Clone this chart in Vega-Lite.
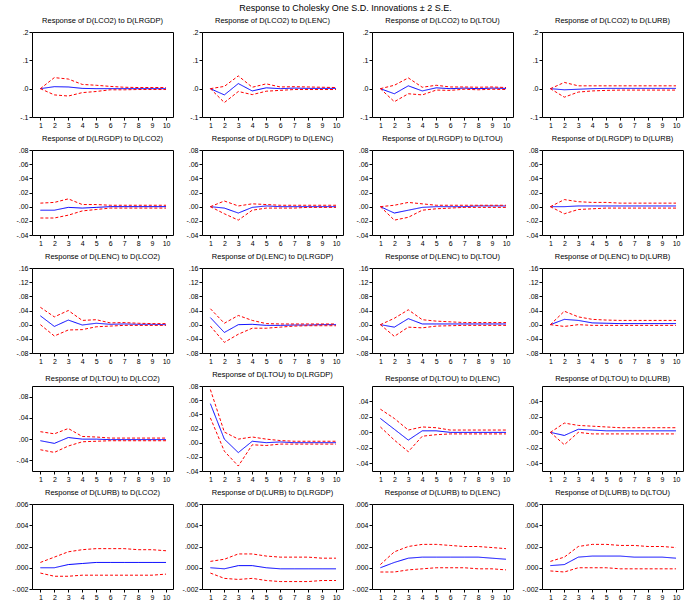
{
"$schema": "https://vega.github.io/schema/vega-lite/v6.json",
"padding": {"left": 7, "top": 4, "right": 0, "bottom": 0},
"title": {"text": "Response to Cholesky One S.D. Innovations ± 2 S.E.", "fontSize": 9, "font": "Liberation Sans", "fontWeight": "normal", "offset": 3, "anchor": "middle"},
"datasets": {"irf": [
{"p":"a1","t":1,"r":0,"lo":0,"hi":0},{"p":"a1","t":2,"r":0.007,"lo":-0.022,"hi":0.039},{"p":"a1","t":3,"r":0.006,"lo":-0.026,"hi":0.034},{"p":"a1","t":4,"r":0.001,"lo":-0.014,"hi":0.015},{"p":"a1","t":5,"r":0,"lo":-0.010,"hi":0.012},{"p":"a1","t":6,"r":0,"lo":-0.004,"hi":0.008},{"p":"a1","t":7,"r":0,"lo":-0.004,"hi":0.005},{"p":"a1","t":8,"r":0,"lo":-0.003,"hi":0.004},{"p":"a1","t":9,"r":0,"lo":-0.003,"hi":0.004},{"p":"a1","t":10,"r":0,"lo":-0.003,"hi":0.004},
{"p":"a2","t":1,"r":0,"lo":0,"hi":0},{"p":"a2","t":2,"r":-0.022,"lo":-0.049,"hi":0.008},{"p":"a2","t":3,"r":0.018,"lo":-0.010,"hi":0.045},{"p":"a2","t":4,"r":-0.008,"lo":-0.021,"hi":0.005},{"p":"a2","t":5,"r":0.003,"lo":-0.009,"hi":0.017},{"p":"a2","t":6,"r":0,"lo":-0.006,"hi":0.006},{"p":"a2","t":7,"r":0.002,"lo":-0.003,"hi":0.007},{"p":"a2","t":8,"r":0.001,"lo":-0.003,"hi":0.006},{"p":"a2","t":9,"r":0.001,"lo":-0.003,"hi":0.005},{"p":"a2","t":10,"r":0.001,"lo":-0.003,"hi":0.004},
{"p":"a3","t":1,"r":0,"lo":0,"hi":0},{"p":"a3","t":2,"r":-0.018,"lo":-0.046,"hi":0.012},{"p":"a3","t":3,"r":0.010,"lo":-0.018,"hi":0.038},{"p":"a3","t":4,"r":-0.008,"lo":-0.022,"hi":0.005},{"p":"a3","t":5,"r":0.003,"lo":-0.005,"hi":0.012},{"p":"a3","t":6,"r":0,"lo":-0.006,"hi":0.006},{"p":"a3","t":7,"r":0.002,"lo":-0.002,"hi":0.006},{"p":"a3","t":8,"r":0,"lo":-0.004,"hi":0.005},{"p":"a3","t":9,"r":0.002,"lo":-0.002,"hi":0.006},{"p":"a3","t":10,"r":0.001,"lo":-0.003,"hi":0.004},
{"p":"a4","t":1,"r":0,"lo":0,"hi":0},{"p":"a4","t":2,"r":-0.004,"lo":-0.030,"hi":0.022},{"p":"a4","t":3,"r":-0.002,"lo":-0.012,"hi":0.010},{"p":"a4","t":4,"r":0,"lo":-0.008,"hi":0.010},{"p":"a4","t":5,"r":0.001,"lo":-0.006,"hi":0.010},{"p":"a4","t":6,"r":0.001,"lo":-0.005,"hi":0.010},{"p":"a4","t":7,"r":0.001,"lo":-0.005,"hi":0.010},{"p":"a4","t":8,"r":0.001,"lo":-0.005,"hi":0.010},{"p":"a4","t":9,"r":0.001,"lo":-0.005,"hi":0.010},{"p":"a4","t":10,"r":0.001,"lo":-0.005,"hi":0.010},
{"p":"b1","t":1,"r":-0.005,"lo":-0.016,"hi":0.005},{"p":"b1","t":2,"r":-0.005,"lo":-0.016,"hi":0.006},{"p":"b1","t":3,"r":-0.001,"lo":-0.012,"hi":0.011},{"p":"b1","t":4,"r":-0.002,"lo":-0.006,"hi":0.003},{"p":"b1","t":5,"r":-0.001,"lo":-0.004,"hi":0.003},{"p":"b1","t":6,"r":0,"lo":-0.002,"hi":0.002},{"p":"b1","t":7,"r":0,"lo":-0.002,"hi":0.002},{"p":"b1","t":8,"r":0,"lo":-0.002,"hi":0.002},{"p":"b1","t":9,"r":0,"lo":-0.002,"hi":0.002},{"p":"b1","t":10,"r":0,"lo":-0.002,"hi":0.002},
{"p":"b2","t":1,"r":0,"lo":0,"hi":0},{"p":"b2","t":2,"r":-0.002,"lo":-0.010,"hi":0.008},{"p":"b2","t":3,"r":-0.009,"lo":-0.019,"hi":0.001},{"p":"b2","t":4,"r":-0.001,"lo":-0.005,"hi":0.004},{"p":"b2","t":5,"r":0.001,"lo":-0.002,"hi":0.003},{"p":"b2","t":6,"r":0,"lo":-0.002,"hi":0.002},{"p":"b2","t":7,"r":0,"lo":-0.002,"hi":0.002},{"p":"b2","t":8,"r":0,"lo":-0.001,"hi":0.002},{"p":"b2","t":9,"r":0,"lo":-0.001,"hi":0.002},{"p":"b2","t":10,"r":0,"lo":-0.001,"hi":0.002},
{"p":"b3","t":1,"r":0,"lo":0,"hi":0},{"p":"b3","t":2,"r":-0.009,"lo":-0.019,"hi":0.002},{"p":"b3","t":3,"r":-0.005,"lo":-0.015,"hi":0.006},{"p":"b3","t":4,"r":-0.001,"lo":-0.005,"hi":0.004},{"p":"b3","t":5,"r":0,"lo":-0.003,"hi":0.002},{"p":"b3","t":6,"r":0,"lo":-0.002,"hi":0.002},{"p":"b3","t":7,"r":0,"lo":-0.001,"hi":0.002},{"p":"b3","t":8,"r":0.001,"lo":-0.001,"hi":0.002},{"p":"b3","t":9,"r":0.001,"lo":-0.001,"hi":0.002},{"p":"b3","t":10,"r":0.001,"lo":-0.001,"hi":0.002},
{"p":"b4","t":1,"r":0,"lo":0,"hi":0},{"p":"b4","t":2,"r":0,"lo":-0.010,"hi":0.010},{"p":"b4","t":3,"r":0.001,"lo":-0.004,"hi":0.007},{"p":"b4","t":4,"r":0.001,"lo":-0.003,"hi":0.006},{"p":"b4","t":5,"r":0.001,"lo":-0.002,"hi":0.006},{"p":"b4","t":6,"r":0.001,"lo":-0.002,"hi":0.005},{"p":"b4","t":7,"r":0.001,"lo":-0.002,"hi":0.005},{"p":"b4","t":8,"r":0.001,"lo":-0.002,"hi":0.005},{"p":"b4","t":9,"r":0.001,"lo":-0.002,"hi":0.005},{"p":"b4","t":10,"r":0.001,"lo":-0.002,"hi":0.005},
{"p":"c1","t":1,"r":0.025,"lo":0,"hi":0.049},{"p":"c1","t":2,"r":-0.005,"lo":-0.032,"hi":0.022},{"p":"c1","t":3,"r":0.013,"lo":-0.015,"hi":0.040},{"p":"c1","t":4,"r":-0.001,"lo":-0.014,"hi":0.012},{"p":"c1","t":5,"r":0.004,"lo":-0.006,"hi":0.014},{"p":"c1","t":6,"r":0.001,"lo":-0.004,"hi":0.005},{"p":"c1","t":7,"r":0.002,"lo":-0.002,"hi":0.006},{"p":"c1","t":8,"r":0.001,"lo":-0.002,"hi":0.004},{"p":"c1","t":9,"r":0.001,"lo":-0.002,"hi":0.003},{"p":"c1","t":10,"r":0,"lo":-0.002,"hi":0.003},
{"p":"c2","t":1,"r":0.020,"lo":-0.004,"hi":0.045},{"p":"c2","t":2,"r":-0.022,"lo":-0.050,"hi":0.004},{"p":"c2","t":3,"r":0,"lo":-0.027,"hi":0.026},{"p":"c2","t":4,"r":0.001,"lo":-0.010,"hi":0.012},{"p":"c2","t":5,"r":-0.002,"lo":-0.010,"hi":0.003},{"p":"c2","t":6,"r":-0.002,"lo":-0.007,"hi":0.002},{"p":"c2","t":7,"r":-0.001,"lo":-0.004,"hi":0.002},{"p":"c2","t":8,"r":-0.001,"lo":-0.003,"hi":0.002},{"p":"c2","t":9,"r":0,"lo":-0.003,"hi":0.002},{"p":"c2","t":10,"r":0,"lo":-0.003,"hi":0.002},
{"p":"c3","t":1,"r":0,"lo":0,"hi":0},{"p":"c3","t":2,"r":-0.007,"lo":-0.033,"hi":0.018},{"p":"c3","t":3,"r":0.017,"lo":-0.007,"hi":0.042},{"p":"c3","t":4,"r":0.002,"lo":-0.009,"hi":0.014},{"p":"c3","t":5,"r":0.002,"lo":-0.004,"hi":0.010},{"p":"c3","t":6,"r":0.002,"lo":-0.003,"hi":0.008},{"p":"c3","t":7,"r":0.002,"lo":-0.002,"hi":0.006},{"p":"c3","t":8,"r":0.002,"lo":-0.002,"hi":0.006},{"p":"c3","t":9,"r":0.002,"lo":-0.002,"hi":0.006},{"p":"c3","t":10,"r":0.002,"lo":-0.002,"hi":0.006},
{"p":"c4","t":1,"r":0,"lo":0,"hi":0},{"p":"c4","t":2,"r":0.015,"lo":-0.005,"hi":0.038},{"p":"c4","t":3,"r":0.012,"lo":0,"hi":0.022},{"p":"c4","t":4,"r":0.005,"lo":-0.002,"hi":0.015},{"p":"c4","t":5,"r":0.004,"lo":-0.002,"hi":0.013},{"p":"c4","t":6,"r":0.003,"lo":-0.002,"hi":0.012},{"p":"c4","t":7,"r":0.003,"lo":-0.002,"hi":0.012},{"p":"c4","t":8,"r":0.003,"lo":-0.002,"hi":0.012},{"p":"c4","t":9,"r":0.003,"lo":-0.002,"hi":0.012},{"p":"c4","t":10,"r":0.003,"lo":-0.002,"hi":0.012},
{"p":"d1","t":1,"r":-0.003,"lo":-0.020,"hi":0.014},{"p":"d1","t":2,"r":-0.008,"lo":-0.025,"hi":0.010},{"p":"d1","t":3,"r":0.003,"lo":-0.013,"hi":0.020},{"p":"d1","t":4,"r":0,"lo":-0.005,"hi":0.005},{"p":"d1","t":5,"r":0,"lo":-0.004,"hi":0.004},{"p":"d1","t":6,"r":-0.001,"lo":-0.003,"hi":0.002},{"p":"d1","t":7,"r":-0.001,"lo":-0.003,"hi":0.002},{"p":"d1","t":8,"r":-0.001,"lo":-0.003,"hi":0.002},{"p":"d1","t":9,"r":-0.001,"lo":-0.003,"hi":0.002},{"p":"d1","t":10,"r":-0.001,"lo":-0.003,"hi":0.002},
{"p":"d2","t":1,"r":0.055,"lo":0.035,"hi":0.075},{"p":"d2","t":2,"r":0.005,"lo":-0.012,"hi":0.015},{"p":"d2","t":3,"r":-0.014,"lo":-0.033,"hi":0.005},{"p":"d2","t":4,"r":0.002,"lo":-0.003,"hi":0.008},{"p":"d2","t":5,"r":0,"lo":-0.004,"hi":0.005},{"p":"d2","t":6,"r":0.001,"lo":-0.002,"hi":0.003},{"p":"d2","t":7,"r":0,"lo":-0.002,"hi":0.002},{"p":"d2","t":8,"r":0,"lo":-0.002,"hi":0.002},{"p":"d2","t":9,"r":0,"lo":-0.002,"hi":0.002},{"p":"d2","t":10,"r":0,"lo":-0.002,"hi":0.002},
{"p":"d3","t":1,"r":0.018,"lo":0.007,"hi":0.030},{"p":"d3","t":2,"r":0.004,"lo":-0.010,"hi":0.018},{"p":"d3","t":3,"r":-0.010,"lo":-0.025,"hi":0.003},{"p":"d3","t":4,"r":0.002,"lo":-0.005,"hi":0.007},{"p":"d3","t":5,"r":0.002,"lo":-0.003,"hi":0.006},{"p":"d3","t":6,"r":0,"lo":-0.002,"hi":0.003},{"p":"d3","t":7,"r":0,"lo":-0.002,"hi":0.003},{"p":"d3","t":8,"r":0,"lo":-0.002,"hi":0.003},{"p":"d3","t":9,"r":0,"lo":-0.002,"hi":0.003},{"p":"d3","t":10,"r":0,"lo":-0.002,"hi":0.003},
{"p":"d4","t":1,"r":0,"lo":0,"hi":0},{"p":"d4","t":2,"r":-0.004,"lo":-0.016,"hi":0.012},{"p":"d4","t":3,"r":0.004,"lo":0,"hi":0.009},{"p":"d4","t":4,"r":0.003,"lo":-0.002,"hi":0.008},{"p":"d4","t":5,"r":0.002,"lo":-0.002,"hi":0.007},{"p":"d4","t":6,"r":0.002,"lo":-0.002,"hi":0.006},{"p":"d4","t":7,"r":0.002,"lo":-0.002,"hi":0.006},{"p":"d4","t":8,"r":0.002,"lo":-0.002,"hi":0.006},{"p":"d4","t":9,"r":0.002,"lo":-0.002,"hi":0.006},{"p":"d4","t":10,"r":0.002,"lo":-0.002,"hi":0.006},
{"p":"e1","t":1,"r":0,"lo":-0.0005,"hi":0.0005},{"p":"e1","t":2,"r":0,"lo":-0.0008,"hi":0.001},{"p":"e1","t":3,"r":0.0003,"lo":-0.0008,"hi":0.0015},{"p":"e1","t":4,"r":0.0004,"lo":-0.0007,"hi":0.0017},{"p":"e1","t":5,"r":0.0005,"lo":-0.0007,"hi":0.0018},{"p":"e1","t":6,"r":0.0005,"lo":-0.0007,"hi":0.0018},{"p":"e1","t":7,"r":0.0005,"lo":-0.0007,"hi":0.0018},{"p":"e1","t":8,"r":0.0005,"lo":-0.0007,"hi":0.0017},{"p":"e1","t":9,"r":0.0005,"lo":-0.0007,"hi":0.0017},{"p":"e1","t":10,"r":0.0005,"lo":-0.0006,"hi":0.0016},
{"p":"e2","t":1,"r":0,"lo":-0.0005,"hi":0.0006},{"p":"e2","t":2,"r":-0.0001,"lo":-0.001,"hi":0.0008},{"p":"e2","t":3,"r":0.0002,"lo":-0.0011,"hi":0.0013},{"p":"e2","t":4,"r":0.0002,"lo":-0.001,"hi":0.0013},{"p":"e2","t":5,"r":0,"lo":-0.0012,"hi":0.0011},{"p":"e2","t":6,"r":-0.0001,"lo":-0.0013,"hi":0.001},{"p":"e2","t":7,"r":-0.0001,"lo":-0.0013,"hi":0.001},{"p":"e2","t":8,"r":-0.0001,"lo":-0.0013,"hi":0.001},{"p":"e2","t":9,"r":-0.0001,"lo":-0.0012,"hi":0.0009},{"p":"e2","t":10,"r":-0.0001,"lo":-0.0012,"hi":0.0009},
{"p":"e3","t":1,"r":0,"lo":-0.0004,"hi":0.0003},{"p":"e3","t":2,"r":0.0005,"lo":-0.0004,"hi":0.0015},{"p":"e3","t":3,"r":0.0009,"lo":-0.0002,"hi":0.002},{"p":"e3","t":4,"r":0.001,"lo":-0.0001,"hi":0.0022},{"p":"e3","t":5,"r":0.001,"lo":0,"hi":0.0022},{"p":"e3","t":6,"r":0.001,"lo":0,"hi":0.0021},{"p":"e3","t":7,"r":0.001,"lo":0,"hi":0.002},{"p":"e3","t":8,"r":0.001,"lo":-0.0001,"hi":0.002},{"p":"e3","t":9,"r":0.0009,"lo":-0.0001,"hi":0.0019},{"p":"e3","t":10,"r":0.0008,"lo":-0.0002,"hi":0.0018},
{"p":"e4","t":1,"r":0.0002,"lo":-0.0003,"hi":0.0006},{"p":"e4","t":2,"r":0.0003,"lo":-0.0004,"hi":0.001},{"p":"e4","t":3,"r":0.001,"lo":0,"hi":0.002},{"p":"e4","t":4,"r":0.0011,"lo":0,"hi":0.0022},{"p":"e4","t":5,"r":0.0011,"lo":0,"hi":0.0022},{"p":"e4","t":6,"r":0.0011,"lo":-0.0001,"hi":0.0021},{"p":"e4","t":7,"r":0.001,"lo":-0.0001,"hi":0.0021},{"p":"e4","t":8,"r":0.001,"lo":-0.0001,"hi":0.002},{"p":"e4","t":9,"r":0.001,"lo":-0.0001,"hi":0.002},{"p":"e4","t":10,"r":0.0009,"lo":-0.0001,"hi":0.0019}
]},
"data": {"name": "irf"},
"spacing": 5,
"vconcat": [
{"spacing": 29, "bounds": "flush", "hconcat": [
 {"title": "Response of D(LCO2) to D(LRGDP)", "width": 141, "height": 85, "transform": [{"filter": "datum.p == 'a1'"}, {"fold": ["r", "lo", "hi"], "as": ["s", "v"]}], "mark": {"type": "line", "strokeWidth": 1}, "encoding": {"x": {"field": "t", "type": "quantitative", "title": null, "scale": {"domain": [0.4, 10.5]}, "axis": {"values": [1,2,3,4,5,6,7,8,9,10], "format": "d"}}, "y": {"field": "v", "type": "quantitative", "title": null, "scale": {"domain": [-0.1, 0.2], "nice": false, "zero": false}, "axis": {"values": [-0.1, 0, 0.1, 0.2], "labelExpr": "replace(replace(format(datum.value, '.1f'), '0.', '.'), '−', '-')"}}, "color": {"field": "s", "type": "nominal", "legend": null, "scale": {"domain": ["r", "lo", "hi"], "range": ["#0000ff", "#ff0000", "#ff0000"]}}, "strokeDash": {"field": "s", "type": "nominal", "legend": null, "scale": {"domain": ["r", "lo", "hi"], "range": [[1, 0], [3, 2], [3, 2]]}}}},
 {"title": "Response of D(LCO2) to D(LENC)", "width": 141, "height": 85, "transform": [{"filter": "datum.p == 'a2'"}, {"fold": ["r", "lo", "hi"], "as": ["s", "v"]}], "mark": {"type": "line", "strokeWidth": 1}, "encoding": {"x": {"field": "t", "type": "quantitative", "title": null, "scale": {"domain": [0.4, 10.5]}, "axis": {"values": [1,2,3,4,5,6,7,8,9,10], "format": "d"}}, "y": {"field": "v", "type": "quantitative", "title": null, "scale": {"domain": [-0.1, 0.2], "nice": false, "zero": false}, "axis": {"values": [-0.1, 0, 0.1, 0.2], "labelExpr": "replace(replace(format(datum.value, '.1f'), '0.', '.'), '−', '-')"}}, "color": {"field": "s", "type": "nominal", "legend": null, "scale": {"domain": ["r", "lo", "hi"], "range": ["#0000ff", "#ff0000", "#ff0000"]}}, "strokeDash": {"field": "s", "type": "nominal", "legend": null, "scale": {"domain": ["r", "lo", "hi"], "range": [[1, 0], [3, 2], [3, 2]]}}}},
 {"title": "Response of D(LCO2) to D(LTOU)", "width": 141, "height": 85, "transform": [{"filter": "datum.p == 'a3'"}, {"fold": ["r", "lo", "hi"], "as": ["s", "v"]}], "mark": {"type": "line", "strokeWidth": 1}, "encoding": {"x": {"field": "t", "type": "quantitative", "title": null, "scale": {"domain": [0.4, 10.5]}, "axis": {"values": [1,2,3,4,5,6,7,8,9,10], "format": "d"}}, "y": {"field": "v", "type": "quantitative", "title": null, "scale": {"domain": [-0.1, 0.2], "nice": false, "zero": false}, "axis": {"values": [-0.1, 0, 0.1, 0.2], "labelExpr": "replace(replace(format(datum.value, '.1f'), '0.', '.'), '−', '-')"}}, "color": {"field": "s", "type": "nominal", "legend": null, "scale": {"domain": ["r", "lo", "hi"], "range": ["#0000ff", "#ff0000", "#ff0000"]}}, "strokeDash": {"field": "s", "type": "nominal", "legend": null, "scale": {"domain": ["r", "lo", "hi"], "range": [[1, 0], [3, 2], [3, 2]]}}}},
 {"title": "Response of D(LCO2) to D(LURB)", "width": 141, "height": 85, "transform": [{"filter": "datum.p == 'a4'"}, {"fold": ["r", "lo", "hi"], "as": ["s", "v"]}], "mark": {"type": "line", "strokeWidth": 1}, "encoding": {"x": {"field": "t", "type": "quantitative", "title": null, "scale": {"domain": [0.4, 10.5]}, "axis": {"values": [1,2,3,4,5,6,7,8,9,10], "format": "d"}}, "y": {"field": "v", "type": "quantitative", "title": null, "scale": {"domain": [-0.1, 0.2], "nice": false, "zero": false}, "axis": {"values": [-0.1, 0, 0.1, 0.2], "labelExpr": "replace(replace(format(datum.value, '.1f'), '0.', '.'), '−', '-')"}}, "color": {"field": "s", "type": "nominal", "legend": null, "scale": {"domain": ["r", "lo", "hi"], "range": ["#0000ff", "#ff0000", "#ff0000"]}}, "strokeDash": {"field": "s", "type": "nominal", "legend": null, "scale": {"domain": ["r", "lo", "hi"], "range": [[1, 0], [3, 2], [3, 2]]}}}}
]},
{"spacing": 29, "bounds": "flush", "hconcat": [
 {"title": "Response of D(LRGDP) to D(LCO2)", "width": 141, "height": 85, "transform": [{"filter": "datum.p == 'b1'"}, {"fold": ["r", "lo", "hi"], "as": ["s", "v"]}], "mark": {"type": "line", "strokeWidth": 1}, "encoding": {"x": {"field": "t", "type": "quantitative", "title": null, "scale": {"domain": [0.4, 10.5]}, "axis": {"values": [1,2,3,4,5,6,7,8,9,10], "format": "d"}}, "y": {"field": "v", "type": "quantitative", "title": null, "scale": {"domain": [-0.04, 0.08], "nice": false, "zero": false}, "axis": {"values": [-0.04, -0.02, 0, 0.02, 0.04, 0.06, 0.08], "labelExpr": "replace(replace(format(datum.value, '.2f'), '0.', '.'), '−', '-')"}}, "color": {"field": "s", "type": "nominal", "legend": null, "scale": {"domain": ["r", "lo", "hi"], "range": ["#0000ff", "#ff0000", "#ff0000"]}}, "strokeDash": {"field": "s", "type": "nominal", "legend": null, "scale": {"domain": ["r", "lo", "hi"], "range": [[1, 0], [3, 2], [3, 2]]}}}},
 {"title": "Response of D(LRGDP) to D(LENC)", "width": 141, "height": 85, "transform": [{"filter": "datum.p == 'b2'"}, {"fold": ["r", "lo", "hi"], "as": ["s", "v"]}], "mark": {"type": "line", "strokeWidth": 1}, "encoding": {"x": {"field": "t", "type": "quantitative", "title": null, "scale": {"domain": [0.4, 10.5]}, "axis": {"values": [1,2,3,4,5,6,7,8,9,10], "format": "d"}}, "y": {"field": "v", "type": "quantitative", "title": null, "scale": {"domain": [-0.04, 0.08], "nice": false, "zero": false}, "axis": {"values": [-0.04, -0.02, 0, 0.02, 0.04, 0.06, 0.08], "labelExpr": "replace(replace(format(datum.value, '.2f'), '0.', '.'), '−', '-')"}}, "color": {"field": "s", "type": "nominal", "legend": null, "scale": {"domain": ["r", "lo", "hi"], "range": ["#0000ff", "#ff0000", "#ff0000"]}}, "strokeDash": {"field": "s", "type": "nominal", "legend": null, "scale": {"domain": ["r", "lo", "hi"], "range": [[1, 0], [3, 2], [3, 2]]}}}},
 {"title": "Response of D(LRGDP) to D(LTOU)", "width": 141, "height": 85, "transform": [{"filter": "datum.p == 'b3'"}, {"fold": ["r", "lo", "hi"], "as": ["s", "v"]}], "mark": {"type": "line", "strokeWidth": 1}, "encoding": {"x": {"field": "t", "type": "quantitative", "title": null, "scale": {"domain": [0.4, 10.5]}, "axis": {"values": [1,2,3,4,5,6,7,8,9,10], "format": "d"}}, "y": {"field": "v", "type": "quantitative", "title": null, "scale": {"domain": [-0.04, 0.08], "nice": false, "zero": false}, "axis": {"values": [-0.04, -0.02, 0, 0.02, 0.04, 0.06, 0.08], "labelExpr": "replace(replace(format(datum.value, '.2f'), '0.', '.'), '−', '-')"}}, "color": {"field": "s", "type": "nominal", "legend": null, "scale": {"domain": ["r", "lo", "hi"], "range": ["#0000ff", "#ff0000", "#ff0000"]}}, "strokeDash": {"field": "s", "type": "nominal", "legend": null, "scale": {"domain": ["r", "lo", "hi"], "range": [[1, 0], [3, 2], [3, 2]]}}}},
 {"title": "Response of D(LRGDP) to D(LURB)", "width": 141, "height": 85, "transform": [{"filter": "datum.p == 'b4'"}, {"fold": ["r", "lo", "hi"], "as": ["s", "v"]}], "mark": {"type": "line", "strokeWidth": 1}, "encoding": {"x": {"field": "t", "type": "quantitative", "title": null, "scale": {"domain": [0.4, 10.5]}, "axis": {"values": [1,2,3,4,5,6,7,8,9,10], "format": "d"}}, "y": {"field": "v", "type": "quantitative", "title": null, "scale": {"domain": [-0.04, 0.08], "nice": false, "zero": false}, "axis": {"values": [-0.04, -0.02, 0, 0.02, 0.04, 0.06, 0.08], "labelExpr": "replace(replace(format(datum.value, '.2f'), '0.', '.'), '−', '-')"}}, "color": {"field": "s", "type": "nominal", "legend": null, "scale": {"domain": ["r", "lo", "hi"], "range": ["#0000ff", "#ff0000", "#ff0000"]}}, "strokeDash": {"field": "s", "type": "nominal", "legend": null, "scale": {"domain": ["r", "lo", "hi"], "range": [[1, 0], [3, 2], [3, 2]]}}}}
]},
{"spacing": 29, "bounds": "flush", "hconcat": [
 {"title": "Response of D(LENC) to D(LCO2)", "width": 141, "height": 85, "transform": [{"filter": "datum.p == 'c1'"}, {"fold": ["r", "lo", "hi"], "as": ["s", "v"]}], "mark": {"type": "line", "strokeWidth": 1}, "encoding": {"x": {"field": "t", "type": "quantitative", "title": null, "scale": {"domain": [0.4, 10.5]}, "axis": {"values": [1,2,3,4,5,6,7,8,9,10], "format": "d"}}, "y": {"field": "v", "type": "quantitative", "title": null, "scale": {"domain": [-0.08, 0.16], "nice": false, "zero": false}, "axis": {"values": [-0.08, -0.04, 0, 0.04, 0.08, 0.12, 0.16], "labelExpr": "replace(replace(format(datum.value, '.2f'), '0.', '.'), '−', '-')"}}, "color": {"field": "s", "type": "nominal", "legend": null, "scale": {"domain": ["r", "lo", "hi"], "range": ["#0000ff", "#ff0000", "#ff0000"]}}, "strokeDash": {"field": "s", "type": "nominal", "legend": null, "scale": {"domain": ["r", "lo", "hi"], "range": [[1, 0], [3, 2], [3, 2]]}}}},
 {"title": "Response of D(LENC) to D(LRGDP)", "width": 141, "height": 85, "transform": [{"filter": "datum.p == 'c2'"}, {"fold": ["r", "lo", "hi"], "as": ["s", "v"]}], "mark": {"type": "line", "strokeWidth": 1}, "encoding": {"x": {"field": "t", "type": "quantitative", "title": null, "scale": {"domain": [0.4, 10.5]}, "axis": {"values": [1,2,3,4,5,6,7,8,9,10], "format": "d"}}, "y": {"field": "v", "type": "quantitative", "title": null, "scale": {"domain": [-0.08, 0.16], "nice": false, "zero": false}, "axis": {"values": [-0.08, -0.04, 0, 0.04, 0.08, 0.12, 0.16], "labelExpr": "replace(replace(format(datum.value, '.2f'), '0.', '.'), '−', '-')"}}, "color": {"field": "s", "type": "nominal", "legend": null, "scale": {"domain": ["r", "lo", "hi"], "range": ["#0000ff", "#ff0000", "#ff0000"]}}, "strokeDash": {"field": "s", "type": "nominal", "legend": null, "scale": {"domain": ["r", "lo", "hi"], "range": [[1, 0], [3, 2], [3, 2]]}}}},
 {"title": "Response of D(LENC) to D(LTOU)", "width": 141, "height": 85, "transform": [{"filter": "datum.p == 'c3'"}, {"fold": ["r", "lo", "hi"], "as": ["s", "v"]}], "mark": {"type": "line", "strokeWidth": 1}, "encoding": {"x": {"field": "t", "type": "quantitative", "title": null, "scale": {"domain": [0.4, 10.5]}, "axis": {"values": [1,2,3,4,5,6,7,8,9,10], "format": "d"}}, "y": {"field": "v", "type": "quantitative", "title": null, "scale": {"domain": [-0.08, 0.16], "nice": false, "zero": false}, "axis": {"values": [-0.08, -0.04, 0, 0.04, 0.08, 0.12, 0.16], "labelExpr": "replace(replace(format(datum.value, '.2f'), '0.', '.'), '−', '-')"}}, "color": {"field": "s", "type": "nominal", "legend": null, "scale": {"domain": ["r", "lo", "hi"], "range": ["#0000ff", "#ff0000", "#ff0000"]}}, "strokeDash": {"field": "s", "type": "nominal", "legend": null, "scale": {"domain": ["r", "lo", "hi"], "range": [[1, 0], [3, 2], [3, 2]]}}}},
 {"title": "Response of D(LENC) to D(LURB)", "width": 141, "height": 85, "transform": [{"filter": "datum.p == 'c4'"}, {"fold": ["r", "lo", "hi"], "as": ["s", "v"]}], "mark": {"type": "line", "strokeWidth": 1}, "encoding": {"x": {"field": "t", "type": "quantitative", "title": null, "scale": {"domain": [0.4, 10.5]}, "axis": {"values": [1,2,3,4,5,6,7,8,9,10], "format": "d"}}, "y": {"field": "v", "type": "quantitative", "title": null, "scale": {"domain": [-0.08, 0.16], "nice": false, "zero": false}, "axis": {"values": [-0.08, -0.04, 0, 0.04, 0.08, 0.12, 0.16], "labelExpr": "replace(replace(format(datum.value, '.2f'), '0.', '.'), '−', '-')"}}, "color": {"field": "s", "type": "nominal", "legend": null, "scale": {"domain": ["r", "lo", "hi"], "range": ["#0000ff", "#ff0000", "#ff0000"]}}, "strokeDash": {"field": "s", "type": "nominal", "legend": null, "scale": {"domain": ["r", "lo", "hi"], "range": [[1, 0], [3, 2], [3, 2]]}}}}
]},
{"spacing": 29, "bounds": "flush", "hconcat": [
 {"title": "Response of D(LTOU) to D(LCO2)", "width": 141, "height": 85, "transform": [{"filter": "datum.p == 'd1'"}, {"fold": ["r", "lo", "hi"], "as": ["s", "v"]}], "mark": {"type": "line", "strokeWidth": 1}, "encoding": {"x": {"field": "t", "type": "quantitative", "title": null, "scale": {"domain": [0.4, 10.5]}, "axis": {"values": [1,2,3,4,5,6,7,8,9,10], "format": "d"}}, "y": {"field": "v", "type": "quantitative", "title": null, "scale": {"domain": [-0.06, 0.1], "nice": false, "zero": false}, "axis": {"values": [-0.04, 0, 0.04, 0.08], "labelExpr": "replace(replace(format(datum.value, '.2f'), '0.', '.'), '−', '-')"}}, "color": {"field": "s", "type": "nominal", "legend": null, "scale": {"domain": ["r", "lo", "hi"], "range": ["#0000ff", "#ff0000", "#ff0000"]}}, "strokeDash": {"field": "s", "type": "nominal", "legend": null, "scale": {"domain": ["r", "lo", "hi"], "range": [[1, 0], [3, 2], [3, 2]]}}}},
 {"title": "Response of D(LTOU) to D(LRGDP)", "width": 141, "height": 85, "transform": [{"filter": "datum.p == 'd2'"}, {"fold": ["r", "lo", "hi"], "as": ["s", "v"]}], "mark": {"type": "line", "strokeWidth": 1}, "encoding": {"x": {"field": "t", "type": "quantitative", "title": null, "scale": {"domain": [0.4, 10.5]}, "axis": {"values": [1,2,3,4,5,6,7,8,9,10], "format": "d"}}, "y": {"field": "v", "type": "quantitative", "title": null, "scale": {"domain": [-0.04, 0.08], "nice": false, "zero": false}, "axis": {"values": [-0.04, -0.02, 0, 0.02, 0.04, 0.06, 0.08], "labelExpr": "replace(replace(format(datum.value, '.2f'), '0.', '.'), '−', '-')"}}, "color": {"field": "s", "type": "nominal", "legend": null, "scale": {"domain": ["r", "lo", "hi"], "range": ["#0000ff", "#ff0000", "#ff0000"]}}, "strokeDash": {"field": "s", "type": "nominal", "legend": null, "scale": {"domain": ["r", "lo", "hi"], "range": [[1, 0], [3, 2], [3, 2]]}}}},
 {"title": "Response of D(LTOU) to D(LENC)", "width": 141, "height": 85, "transform": [{"filter": "datum.p == 'd3'"}, {"fold": ["r", "lo", "hi"], "as": ["s", "v"]}], "mark": {"type": "line", "strokeWidth": 1}, "encoding": {"x": {"field": "t", "type": "quantitative", "title": null, "scale": {"domain": [0.4, 10.5]}, "axis": {"values": [1,2,3,4,5,6,7,8,9,10], "format": "d"}}, "y": {"field": "v", "type": "quantitative", "title": null, "scale": {"domain": [-0.05, 0.06], "nice": false, "zero": false}, "axis": {"values": [-0.04, -0.02, 0, 0.02, 0.04], "labelExpr": "replace(replace(format(datum.value, '.2f'), '0.', '.'), '−', '-')"}}, "color": {"field": "s", "type": "nominal", "legend": null, "scale": {"domain": ["r", "lo", "hi"], "range": ["#0000ff", "#ff0000", "#ff0000"]}}, "strokeDash": {"field": "s", "type": "nominal", "legend": null, "scale": {"domain": ["r", "lo", "hi"], "range": [[1, 0], [3, 2], [3, 2]]}}}},
 {"title": "Response of D(LTOU) to D(LURB)", "width": 141, "height": 85, "transform": [{"filter": "datum.p == 'd4'"}, {"fold": ["r", "lo", "hi"], "as": ["s", "v"]}], "mark": {"type": "line", "strokeWidth": 1}, "encoding": {"x": {"field": "t", "type": "quantitative", "title": null, "scale": {"domain": [0.4, 10.5]}, "axis": {"values": [1,2,3,4,5,6,7,8,9,10], "format": "d"}}, "y": {"field": "v", "type": "quantitative", "title": null, "scale": {"domain": [-0.05, 0.06], "nice": false, "zero": false}, "axis": {"values": [-0.04, -0.02, 0, 0.02, 0.04], "labelExpr": "replace(replace(format(datum.value, '.2f'), '0.', '.'), '−', '-')"}}, "color": {"field": "s", "type": "nominal", "legend": null, "scale": {"domain": ["r", "lo", "hi"], "range": ["#0000ff", "#ff0000", "#ff0000"]}}, "strokeDash": {"field": "s", "type": "nominal", "legend": null, "scale": {"domain": ["r", "lo", "hi"], "range": [[1, 0], [3, 2], [3, 2]]}}}}
]},
{"spacing": 29, "bounds": "flush", "hconcat": [
 {"title": "Response of D(LURB) to D(LCO2)", "width": 141, "height": 85, "transform": [{"filter": "datum.p == 'e1'"}, {"fold": ["r", "lo", "hi"], "as": ["s", "v"]}], "mark": {"type": "line", "strokeWidth": 1}, "encoding": {"x": {"field": "t", "type": "quantitative", "title": null, "scale": {"domain": [0.4, 10.5]}, "axis": {"values": [1,2,3,4,5,6,7,8,9,10], "format": "d"}}, "y": {"field": "v", "type": "quantitative", "title": null, "scale": {"domain": [-0.002, 0.006], "nice": false, "zero": false}, "axis": {"values": [-0.002, 0, 0.002, 0.004, 0.006], "labelExpr": "replace(replace(format(datum.value, '.3f'), '0.', '.'), '−', '-')"}}, "color": {"field": "s", "type": "nominal", "legend": null, "scale": {"domain": ["r", "lo", "hi"], "range": ["#0000ff", "#ff0000", "#ff0000"]}}, "strokeDash": {"field": "s", "type": "nominal", "legend": null, "scale": {"domain": ["r", "lo", "hi"], "range": [[1, 0], [3, 2], [3, 2]]}}}},
 {"title": "Response of D(LURB) to D(LRGDP)", "width": 141, "height": 85, "transform": [{"filter": "datum.p == 'e2'"}, {"fold": ["r", "lo", "hi"], "as": ["s", "v"]}], "mark": {"type": "line", "strokeWidth": 1}, "encoding": {"x": {"field": "t", "type": "quantitative", "title": null, "scale": {"domain": [0.4, 10.5]}, "axis": {"values": [1,2,3,4,5,6,7,8,9,10], "format": "d"}}, "y": {"field": "v", "type": "quantitative", "title": null, "scale": {"domain": [-0.002, 0.006], "nice": false, "zero": false}, "axis": {"values": [-0.002, 0, 0.002, 0.004, 0.006], "labelExpr": "replace(replace(format(datum.value, '.3f'), '0.', '.'), '−', '-')"}}, "color": {"field": "s", "type": "nominal", "legend": null, "scale": {"domain": ["r", "lo", "hi"], "range": ["#0000ff", "#ff0000", "#ff0000"]}}, "strokeDash": {"field": "s", "type": "nominal", "legend": null, "scale": {"domain": ["r", "lo", "hi"], "range": [[1, 0], [3, 2], [3, 2]]}}}},
 {"title": "Response of D(LURB) to D(LENC)", "width": 141, "height": 85, "transform": [{"filter": "datum.p == 'e3'"}, {"fold": ["r", "lo", "hi"], "as": ["s", "v"]}], "mark": {"type": "line", "strokeWidth": 1}, "encoding": {"x": {"field": "t", "type": "quantitative", "title": null, "scale": {"domain": [0.4, 10.5]}, "axis": {"values": [1,2,3,4,5,6,7,8,9,10], "format": "d"}}, "y": {"field": "v", "type": "quantitative", "title": null, "scale": {"domain": [-0.002, 0.006], "nice": false, "zero": false}, "axis": {"values": [-0.002, 0, 0.002, 0.004, 0.006], "labelExpr": "replace(replace(format(datum.value, '.3f'), '0.', '.'), '−', '-')"}}, "color": {"field": "s", "type": "nominal", "legend": null, "scale": {"domain": ["r", "lo", "hi"], "range": ["#0000ff", "#ff0000", "#ff0000"]}}, "strokeDash": {"field": "s", "type": "nominal", "legend": null, "scale": {"domain": ["r", "lo", "hi"], "range": [[1, 0], [3, 2], [3, 2]]}}}},
 {"title": "Response of D(LURB) to D(LTOU)", "width": 141, "height": 85, "transform": [{"filter": "datum.p == 'e4'"}, {"fold": ["r", "lo", "hi"], "as": ["s", "v"]}], "mark": {"type": "line", "strokeWidth": 1}, "encoding": {"x": {"field": "t", "type": "quantitative", "title": null, "scale": {"domain": [0.4, 10.5]}, "axis": {"values": [1,2,3,4,5,6,7,8,9,10], "format": "d"}}, "y": {"field": "v", "type": "quantitative", "title": null, "scale": {"domain": [-0.002, 0.006], "nice": false, "zero": false}, "axis": {"values": [-0.002, 0, 0.002, 0.004, 0.006], "labelExpr": "replace(replace(format(datum.value, '.3f'), '0.', '.'), '−', '-')"}}, "color": {"field": "s", "type": "nominal", "legend": null, "scale": {"domain": ["r", "lo", "hi"], "range": ["#0000ff", "#ff0000", "#ff0000"]}}, "strokeDash": {"field": "s", "type": "nominal", "legend": null, "scale": {"domain": ["r", "lo", "hi"], "range": [[1, 0], [3, 2], [3, 2]]}}}}
]}
],
"config": {
 "view": {"stroke": "black", "strokeWidth": 1},
 "axis": {"labelFont": "Liberation Sans", "labelFontSize": 7, "labelColor": "black", "domain": false, "tickColor": "black", "tickSize": 3, "labelPadding": 1, "labelOverlap": false, "labelFlush": false, "labelBound": false},
 "axisX": {"grid": false},
 "axisY": {"minExtent": 24, "maxExtent": 24, "grid": true, "gridColor": "#b4b4b4", "gridOpacity": {"condition": {"test": "datum.value === 0", "value": 1}, "value": 0}},
 "title": {"font": "Liberation Sans", "fontSize": 7.5, "fontWeight": "normal", "offset": 4}
}
}
